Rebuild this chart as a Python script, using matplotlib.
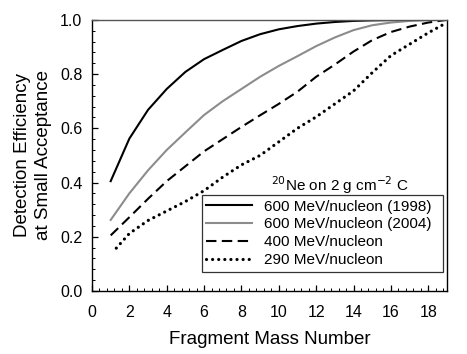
import numpy as np
import matplotlib
matplotlib.use("Agg")
import matplotlib.pyplot as plt
from matplotlib.ticker import MultipleLocator

plt.rcParams['font.family'] = ['Liberation Sans', 'DejaVu Sans']

# Donnees
masse = [1, 2, 3, 4, 5, 6, 7, 8, 9, 10, 11, 12, 13, 14, 15, 16, 17, 18, 19]
eff_600_1998 = [0.405, 0.562, 0.668, 0.745, 0.808, 0.855, 0.889, 0.922, 0.947,
                0.965, 0.977, 0.986, 0.992, 0.996, 0.998, 0.999, 1.0, 1.0, 1.0]
eff_600_2004 = [0.262, 0.36, 0.445, 0.52, 0.585, 0.649, 0.70, 0.745, 0.79,
                0.83, 0.866, 0.903, 0.935, 0.962, 0.98, 0.99, 0.996, 0.999, 1.0]
eff_400 = [0.205, 0.272, 0.34, 0.405, 0.46, 0.515, 0.56, 0.605, 0.648,
           0.69, 0.735, 0.79, 0.835, 0.883, 0.925, 0.955, 0.975, 0.99, 1.0]
masse_290 = [1.3, 2, 3, 4, 5, 6, 7, 8, 9, 10, 11, 12, 13, 14, 15, 16, 17, 18, 19]
eff_290 = [0.158, 0.212, 0.26, 0.295, 0.33, 0.37, 0.42, 0.465, 0.50, 0.55,
           0.60, 0.642, 0.69, 0.738, 0.805, 0.868, 0.91, 0.952, 0.99]

labels = ["600 MeV/nucleon (1998)", "600 MeV/nucleon (2004)",
          "400 MeV/nucleon", "290 MeV/nucleon"]

fig = plt.figure(figsize=(4.67, 3.54), dpi=100)
ax = fig.add_axes([0.197, 0.178, 0.76, 0.766])

ax.plot(masse, eff_600_1998, color='black', lw=1.5, label=labels[0])
ax.plot(masse, eff_600_2004, color='#8c8c8c', lw=1.5, label=labels[1])
ax.plot(masse, eff_400, color='black', lw=1.5, dashes=(5, 2.6), label=labels[2])
ax.plot(masse_290, eff_290, color='black', lw=2.3, linestyle=(0, (0.01, 1.9)),
        dash_capstyle='round', label=labels[3])

ax.set_xlim(0, 19)
ax.set_ylim(0, 1.0)
ax.xaxis.set_major_locator(MultipleLocator(2))
ax.xaxis.set_minor_locator(MultipleLocator(0.4))
ax.yaxis.set_major_locator(MultipleLocator(0.2))
ax.yaxis.set_minor_locator(MultipleLocator(0.04))
ax.set_yticks([0.0, 0.2, 0.4, 0.6, 0.8, 1.0])
ax.set_yticklabels(["0.0", "0.2", "0.4", "0.6", "0.8", "1.0"])

ax.tick_params(which='both', direction='in', top=False, right=False, labelsize=11.5)
ax.tick_params(axis='x', which='major', length=4.5, width=0.9, pad=10)
ax.tick_params(axis='x', which='minor', length=2.5, width=0.7)
ax.tick_params(axis='y', which='major', length=4.5, width=0.9, pad=7)
ax.tick_params(axis='y', which='minor', length=2.5, width=0.7)
for s in ax.spines.values():
    s.set_linewidth(1.0)
ax.spines['top'].set_color('#555555')

ax.set_xlabel("Fragment Mass Number", fontsize=13.5, labelpad=8)
ax.set_ylabel("Detection Efficiency\nat Small Acceptance", fontsize=13.5,
              labelpad=6, linespacing=1.25)

leg = ax.legend(loc='upper left', bbox_to_anchor=(0.309, 0.354, 0.68, 0),
                mode='expand', fontsize=11, frameon=True, fancybox=False,
                handlelength=3.0, handletextpad=0.8, labelspacing=0.25,
                borderpad=0.3, borderaxespad=0)
leg.get_frame().set_edgecolor('black')
leg.get_frame().set_linewidth(0.9)

ax.text(0.699, 0.391, r"$^{20}$Ne on 2 g cm$^{-2}$ C", transform=ax.transAxes,
        ha='center', va='center', fontsize=11)

plt.savefig("out.png", dpi=100)
